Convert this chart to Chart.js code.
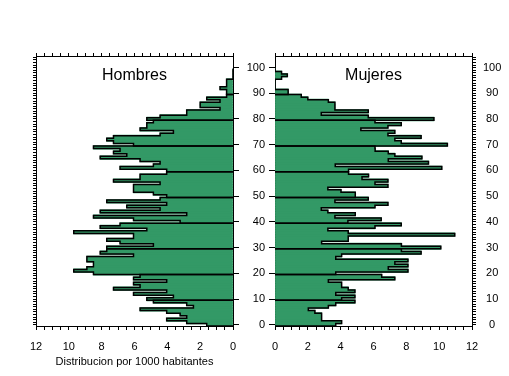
<!DOCTYPE html>
<html>
<head>
<meta charset="utf-8">
<script src="https://cdn.jsdelivr.net/npm/chart.js@4.4.0/dist/chart.umd.min.js"></script>
<style>
  html, body { margin: 0; padding: 0; background: #fff; }
  body { width: 509px; height: 376px; position: relative; overflow: hidden; }
  .panel { position: absolute; top: 0; height: 376px; }
  #wrapH { left: 0; width: 245px; }
  #wrapM { left: 245px; width: 264px; }
  .label { position: absolute; top: 67px; font: 16px "Liberation Sans", Arial, sans-serif;
           line-height: 16px; transform: translateX(-50%); white-space: nowrap; color: #000; }
</style>
</head>
<body>
<div class="panel" id="wrapH"><canvas id="hombres" width="245" height="376"></canvas></div>
<div class="panel" id="wrapM"><canvas id="mujeres" width="264" height="376"></canvas></div>
<div class="label" style="left:134.5px">Hombres</div>
<div class="label" style="left:373.5px">Mujeres</div>
<script>
// edad 0..99, distribucion por 1000 habitantes
const hombres = [
  1.6, 2.82, 4.04, 2.82, 3.22, 4.04, 5.66, 2.41, 2.82, 4.85,
  5.25, 3.63, 6.06, 4.04, 7.28, 5.66, 6.06, 4.04, 6.06, 5.66,
  8.5, 9.7, 8.9, 8.5, 8.5, 8.9, 8.9, 6.06, 8.09, 7.69,
  7.69, 4.85, 6.88, 7.69, 6.06, 6.06, 9.7, 5.25, 8.09, 6.88,
  3.22, 6.06, 8.5, 2.82, 8.09, 4.44, 6.47, 4.04, 7.69, 4.44,
  4.04, 4.85, 6.06, 6.06, 6.06, 4.44, 7.28, 5.66, 5.66, 4.04,
  4.04, 6.88, 4.85, 4.44, 5.66, 8.09, 6.47, 7.28, 6.88, 8.5,
  6.06, 7.28, 7.69, 7.28, 4.44, 3.63, 5.66, 5.25, 5.25, 4.85,
  5.25, 4.44, 2.82, 2.82, 0.79, 2.0, 2.0, 0.79, 1.6, 0.39,
  0.39, 0.39, 0.79, 0.39, 0.39, 0.39, 0, 0, 0, 0
];
const mujeres = [
  3.7, 4.06, 2.84, 2.84, 2.84, 2.43, 2.03, 3.25, 3.7, 4.87,
  4.06, 4.87, 3.7, 4.87, 4.46, 4.06, 4.06, 3.25, 7.3, 6.5,
  3.7, 8.1, 6.9, 8.1, 7.3, 8.1, 3.7, 4.06, 8.9, 7.7,
  10.1, 7.7, 2.84, 4.46, 4.46, 10.95, 4.46, 3.22, 6.09, 7.69,
  4.44, 6.47, 3.65, 4.89, 3.22, 2.82, 6.09, 6.88, 3.65, 5.68,
  4.89, 4.89, 4.02, 3.22, 6.88, 6.09, 6.88, 5.3, 5.7, 4.48,
  4.48, 10.16, 3.67, 9.35, 6.9, 8.95, 7.3, 6.9, 6.1, 6.09,
  10.5, 7.69, 7.3, 8.9, 6.88, 7.3, 5.23, 6.88, 7.69, 6.09,
  9.68, 5.68, 2.82, 5.68, 3.65, 3.65, 3.65, 3.25, 2.0, 1.6,
  0.8, 0.8, 0, 0, 0, 0, 0.4, 0.75, 0.4, 0
];
const edades = Array.from({ length: hombres.length }, (_, i) => i);
const edadTicks = [0, 10, 20, 30, 40, 50, 60, 70, 80, 90, 100];
const valorTicks = [0, 2, 4, 6, 8, 10, 12];
const medioTicks = [0, 0.5, 1, 1.5, 2, 2.5, 3, 3.5, 4, 4.5, 5, 5.5, 6, 6.5, 7, 7.5, 8, 8.5, 9, 9.5, 10, 10.5, 11, 11.5, 12];
const anioTicks = Array.from({ length: 105 }, (_, i) => i);

const verde = '#339966';

Chart.defaults.font.family = '"Liberation Sans", Arial, sans-serif';
Chart.defaults.font.size = 11;
Chart.defaults.color = '#000';

const setTicks = (list) => (s) => { s.ticks = list.map((v) => ({ value: v })); };

// one closed step outline per decade, like the original drawing
function contornos(values) {
  const sets = [];
  for (let ini = 0; ini < values.length; ini += 10) {
    const fin = Math.min(ini + 10, values.length);
    const pts = [{ x: 0, y: ini - 0.5 }];
    for (let a = ini; a < fin; a++) pts.push({ x: values[a], y: a - 0.5 });
    pts.push({ x: values[fin - 1], y: fin - 0.5 });
    pts.push({ x: 0, y: fin - 0.5 });
    sets.push({
      type: 'line', data: pts, stepped: 'after', borderColor: '#000', borderWidth: 1.5,
      pointRadius: 0, fill: false, order: 1
    });
  }
  return sets;
}

function panel(id, values, izquierda) {
  const edge = { color: '#000', width: 1 };
  const yBase = { type: 'linear', min: -0.5, max: 104.5, bounds: 'data', offset: false };
  const xBase = { type: 'linear', min: 0, max: 12, reverse: izquierda, bounds: 'data',
                  afterBuildTicks: setTicks(medioTicks) };

  return new Chart(document.getElementById(id), {
    type: 'bar',
    data: {
      datasets: [
        {
          type: 'bar',
          data: values.map((v, i) => ({ x: v, y: edades[i] })),
          backgroundColor: verde,
          borderWidth: 0,
          barThickness: 3.6,   // a bit more than one year so rows overlap, no seams
          order: 2
        },
        ...contornos(values)
      ]
    },
    options: {
      indexAxis: 'y',
      responsive: false,
      animation: false,
      layout: { padding: 0 },
      plugins: { legend: { display: false }, tooltip: { enabled: false } },
      scales: {
        x: {
          ...xBase, position: 'bottom',
          afterFit: (s) => { s.height = 50; },
          ticks: { autoSkip: false, maxRotation: 0, padding: 10,
                   callback: (v) => (valorTicks.includes(v) ? String(v) : '') },
          grid: { drawOnChartArea: false, tickLength: 4, color: '#000' },
          border: edge,
          title: { display: izquierda, text: 'Distribucion por 1000 habitantes',
                   padding: { top: 0, bottom: 7 } }
        },
        xTop: {
          ...xBase, position: 'top',
          afterFit: (s) => { s.height = 56; },
          ticks: { display: false },
          grid: { drawOnChartArea: false, tickLength: 3, color: '#000' },
          border: edge
        },
        y: {
          ...yBase, position: 'left',
          afterBuildTicks: setTicks(izquierda ? anioTicks : edadTicks),
          afterFit: (s) => { s.width = izquierda ? 36 : 30; },
          ticks: { display: !izquierda, autoSkip: false, padding: 4 },
          grid: { drawOnChartArea: false, offset: false, tickLength: izquierda ? 3 : 6, color: '#000' },
          border: edge
        },
        yRight: {
          ...yBase, position: 'right',
          afterBuildTicks: setTicks(izquierda ? edadTicks : anioTicks),
          afterFit: (s) => { s.width = izquierda ? 12 : 37; },
          ticks: { display: !izquierda, autoSkip: false, padding: 7, crossAlign: 'center',
                   callback: (v) => (edadTicks.includes(v) ? String(v) : '') },
          grid: { drawOnChartArea: false, offset: false, tickLength: izquierda ? 6 : 4, color: '#000' },
          border: edge
        }
      }
    }
  });
}

panel('hombres', hombres, true);
panel('mujeres', mujeres, false);
</script>
</body>
</html>
